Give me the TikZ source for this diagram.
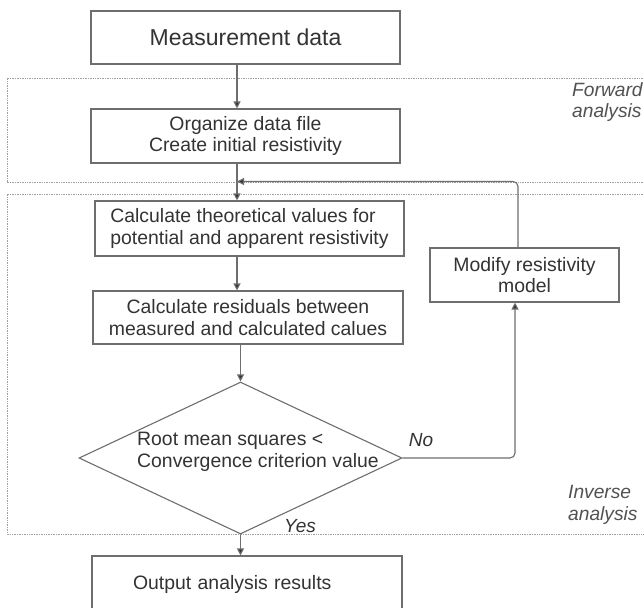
\documentclass[tikz,border=0pt]{standalone}
\usepackage{fontspec}
\setmainfont{Liberation Sans}
\usetikzlibrary{shapes.geometric,arrows.meta}
\definecolor{txt}{HTML}{333333}
\definecolor{ln}{HTML}{6E6E6E}
\definecolor{dot}{HTML}{A0A0A0}
\begin{document}
\begin{tikzpicture}[x=1pt,y=-1pt,
  box/.style={draw=ln, line width=1.1pt, rectangle, inner sep=0pt, text=txt, align=center,
    font=\fontsize{19.4}{21.5}\selectfont},
  conn/.style={draw=ln, line width=1.1pt, -{Triangle[length=7pt,width=7pt,fill=txt]}},
  region/.style={draw=dot, line width=0.7pt, dash pattern=on 0.8pt off 0.9pt},
  side/.style={text=txt!85, font=\fontsize{19.2}{21.5}\selectfont\itshape, align=left, inner sep=0pt, anchor=west},
  ans/.style={text=txt, font=\fontsize{19}{21}\selectfont\itshape, inner sep=0pt}]
\useasboundingbox (0,0) rectangle (644,607);
\fill[white] (0,0) rectangle (644,607);
% regions
\draw[region] (660,78) -- (7,78) -- (7,182) -- (660,182);
\draw[region] (660,194) -- (7,194) -- (7,534) -- (660,534);
\node[side] (fwd) at (572,102) {Forward\\analysis};
\node[side] (inv) at (568,505) {Inverse\\analysis};
% nodes
\node[box, minimum width=309pt, minimum height=53pt, font=\fontsize{23}{26}\selectfont] (meas) at (245.5,37.5) {Measurement data};
\node[box, minimum width=309pt, minimum height=54pt] (org) at (245.5,136) {Organize data file\\Create initial resistivity};
\node[box, minimum width=309pt, minimum height=55pt, align=left] (calc1) at (249.5,228.5) {Calculate theoretical values for\\potential and apparent resistivity};
\node[box, minimum width=310pt, minimum height=53pt] (calc2) at (248,317.5) {Calculate residuals between\\measured and calculated calues};
\node[box, minimum width=189pt, minimum height=54pt] (modify) at (524.5,275) {Modify resistivity\\model};
\node[diamond, draw=ln, line width=1.1pt, inner sep=0pt, minimum width=323pt, minimum height=152pt] (dia) at (240.5,458) {};
\node[anchor=west, inner sep=0pt, text=txt, align=left, font=\fontsize{19.4}{21.5}\selectfont] (diatext) at (137,452) {Root mean squares <\\Convergence criterion value};
\node[box, text width=228pt, inner xsep=41pt, minimum height=56pt, align=left] (out) at (247,584) {Output analysis results};
% coordinates
\coordinate (spine) at (237,0);
\coordinate (fbx) at (518,0);
\coordinate (loopx) at (515,0);
\coordinate (fb) at (237,181.5);
% connectors
\draw[conn] (meas.south -| spine) -- (org.north -| spine);
\draw[conn] (org.south -| spine) -- (calc1.north -| spine);
\draw[conn] (calc1.south -| spine) -- (calc2.north -| spine);
\draw[conn] (calc2.south -| dia.north) -- (dia.north);
\draw[conn] (dia.south) -- (out.north -| dia.south);
\draw[conn, rounded corners=5pt] (dia.east) -| (modify.south -| loopx);
\draw[conn, rounded corners=5pt] (modify.north -| fbx) |- (fb);
\node[ans] (no) at (421,440) {No};
\node[ans] (yes) at (300,526) {Yes};
\end{tikzpicture}
\end{document}
